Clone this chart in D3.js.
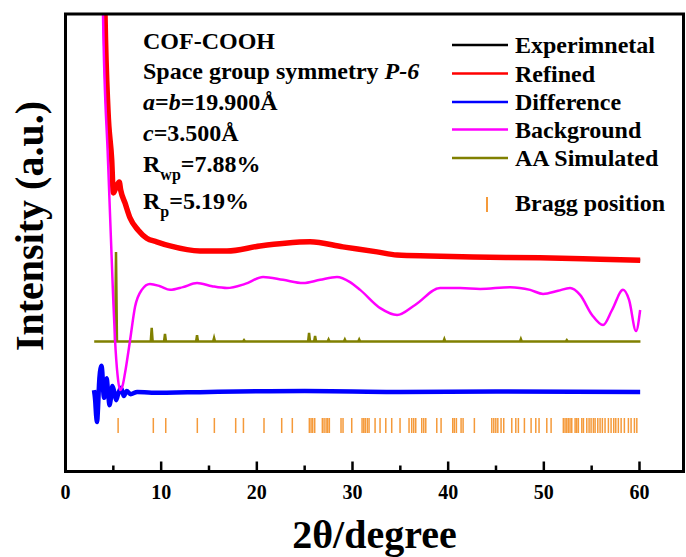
<!DOCTYPE html>
<html>
<head>
<meta charset="utf-8">
<script src="https://cdn.jsdelivr.net/npm/d3@7"></script>
<style>
  body { margin: 0; background: #fff; }
  svg text { font-family: "Times New Roman", "Liberation Serif", serif; font-weight: bold; }
</style>
</head>
<body>
<div></div>
<script>
var width = 686, height = 557;

// observed / refined profile, [2theta, intensity a.u.]
var refined = [[3.9,136],[4.13,100],[4.44,79],[4.83,68.1],[5.0,60.9],[5.3,62.2],[5.62,63.3],[5.77,61.5],
  [6.22,58.7],[6.75,55.4],[7.58,52.8],[8.49,51.0],[9.53,50.2],[10.93,49.3],[14.06,48.2],[16.88,48.2],
  [20.33,49.3],[22.94,49.9],[25.56,50.2],[29.0,49.1],[32.57,48.0],[34.66,47.3],[38.1,47.1],[42.6,46.9],
  [49.6,46.7],[55.9,46.4],[60.07,46.2]];

var background = [[3.7,146.8],[3.92,100],[4.44,68.1],[4.97,38.7],[5.18,28.7],[5.44,21.1],[5.7,17.8],[5.96,18.7],
  [6.22,21.5],[6.75,28.7],[7.27,36.0],[7.97,39.7],[8.83,41.0],[9.88,40.5],[10.93,39.7],[12.28,40.3],
  [13.75,41.2],[15.32,40.5],[16.88,40.1],[18.77,41.0],[20.65,42.5],[22.74,41.9],[24.83,41.2],[26.61,41.9],
  [28.38,42.5],[29.74,41.4],[30.8,39.7],[32.9,35.7],[34.66,34.2],[36.54,36.4],[39.16,40.1],[41.25,40.1],
  [43.34,39.9],[46.48,40.3],[48.57,39.7],[49.92,38.8],[51.49,39.5],[52.74,40.1],[53.79,38.6],[55.04,34.2],
  [56.19,32.0],[57.13,35.3],[58.28,39.7],[58.91,37.5],[59.64,30.7],[60.07,35.3]];

var difference = [[2.98,17.8],[3.1,15.6],[3.2,12.3],[3.3,10.8],[3.4,13.9],[3.5,18.9],[3.6,21.7],[3.75,23.1],
  [3.85,21.7],[3.95,17.4],[4.05,16.1],[4.2,19.1],[4.3,20.4],[4.45,17.4],[4.6,14.5],[4.75,16.1],[4.9,18.7],
  [5.1,17.4],[5.3,15.6],[5.5,16.9],[5.8,18.3],[6.1,16.5],[6.4,17.6],[6.8,16.9],[7.5,17.4],[9,17.2],
  [15,17.4],[25,17.6],[35,17.4],[45,17.5],[60.07,17.4]];

// AA stacking simulation: flat baseline plus peaks [2theta, height]
var simRange = [3.0, 60.1];
var simBase = 28.4;
var simPeaks = [[5.28,48.0],[9.01,31.4],[10.4,30.1],[13.75,29.8],[15.53,29.2],[18.66,28.7],[25.46,30.3],
  [26.09,29.6],[27.5,28.85],[29.2,28.85],[30.7,28.85],[39.6,28.96],[47.6,28.96],[52.4,28.7]];

var bragg = [5.5,9.18,10.48,13.78,15.56,17.79,18.6,20.75,22.6,23.71,25.49,25.67,25.84,26.05,26.85,27.03,
  27.24,27.41,27.58,28.8,29.01,29.92,31.0,31.18,31.34,31.55,31.73,32.36,32.88,33.48,34.1,34.97,35.91,36.19,
  36.4,36.61,37.24,37.45,37.66,38.81,39.26,40.48,40.65,40.86,41.35,41.56,42.74,44.56,44.77,44.98,45.19,
  45.53,45.81,46.65,47.07,47.34,47.97,48.67,49.16,49.5,50.31,50.76,52.04,52.22,52.4,52.57,52.74,52.92,
  53.27,53.44,53.61,53.97,54.14,54.49,54.73,54.94,55.18,55.36,55.64,55.88,56.12,56.4,56.75,57.03,57.31,
  57.52,57.79,58.08,58.42,58.84,59.12,59.47,59.72];

var xTicks = [0, 10, 20, 30, 40, 50, 60];
var xMinor = [5, 15, 25, 35, 45, 55];

var legendNames = ["Experimnetal", "Refined", "Difference", "Background", "AA Simulated"];
var legendColors = ["#000000", "#ff0000", "#0000ff", "#ff00ff", "#808000"];

var pl = 65.5, pr = 683.5, pt = 14, pb = 471.5;

var x = d3.scaleLinear().domain([0, 64.6]).range([pl, pr]);
var y = d3.scaleLinear().domain([0, 100]).range([pb, pt]);

var svg = d3.select("div").append("svg")
    .attr("width", width)
    .attr("height", height);

svg.append("clipPath").attr("id", "clip")
  .append("rect")
    .attr("x", pl).attr("y", pt)
    .attr("width", pr - pl).attr("height", pb - pt);

var plot = svg.append("g").attr("clip-path", "url(#clip)");

var line = d3.line()
    .x(function(d) { return x(d[0]); })
    .y(function(d) { return y(d[1]); })
    .curve(d3.curveMonotoneX);

// build the simulated trace from baseline + narrow peaks
var sim = [[simRange[0], simBase]];
simPeaks.forEach(function(p) {
  sim.push([p[0] - 0.1, simBase], [p[0], p[1]], [p[0] + 0.1, simBase]);
});
sim.push([simRange[1], simBase]);

// bragg ticks
plot.append("g")
  .selectAll("line")
    .data(bragg)
  .enter().append("line")
    .attr("x1", function(d) { return x(d); })
    .attr("x2", function(d) { return x(d); })
    .attr("y1", 418).attr("y2", 433)
    .style("stroke", "#f59a3a")
    .style("stroke-width", 1.5);

plot.append("path").datum(difference)
    .attr("d", line)
    .style("fill", "none").style("stroke", "#0000ff").style("stroke-width", 4.5)
    .style("stroke-linejoin", "round");

plot.append("path").datum(sim)
    .attr("d", d3.line().x(function(d) { return x(d[0]); }).y(function(d) { return y(d[1]); }))
    .style("fill", "none").style("stroke", "#808000").style("stroke-width", 2.5);

plot.append("path").datum(refined)
    .attr("d", line)
    .style("fill", "none").style("stroke", "#000000").style("stroke-width", 3);

plot.append("path").datum(refined)
    .attr("d", line)
    .style("fill", "none").style("stroke", "#ff0000").style("stroke-width", 5.5)
    .style("stroke-linejoin", "round");

plot.append("path").datum(background)
    .attr("d", line)
    .style("fill", "none").style("stroke", "#ff00ff").style("stroke-width", 2.5);

// frame
svg.append("rect")
    .attr("x", pl).attr("y", pt)
    .attr("width", pr - pl).attr("height", pb - pt)
    .style("fill", "none").style("stroke", "#000").style("stroke-width", 3);

// x ticks, inward
svg.append("g").selectAll("line")
    .data(xTicks.slice(1))
  .enter().append("line")
    .attr("x1", function(d) { return x(d); }).attr("x2", function(d) { return x(d); })
    .attr("y1", pb).attr("y2", pb - 10)
    .style("stroke", "#000").style("stroke-width", 2.5);

svg.append("g").selectAll("line")
    .data(xMinor)
  .enter().append("line")
    .attr("x1", function(d) { return x(d); }).attr("x2", function(d) { return x(d); })
    .attr("y1", pb).attr("y2", pb - 6)
    .style("stroke", "#000").style("stroke-width", 2.5);

svg.append("g").selectAll("text")
    .data(xTicks)
  .enter().append("text")
    .attr("x", function(d) { return x(d); })
    .attr("y", 499)
    .attr("text-anchor", "middle")
    .style("font-size", "20px")
    .text(function(d) { return d; });

svg.append("text")
    .attr("x", (pl + pr) / 2).attr("y", 548)
    .attr("text-anchor", "middle")
    .style("font-size", "40px")
    .text("2θ/degree");

svg.append("text")
    .attr("transform", "translate(43,226) rotate(-90)")
    .attr("text-anchor", "middle")
    .style("font-size", "40px")
    .text("Intensity (a.u.)");

// annotation
var note = svg.append("g").style("font-size", "24px");
note.append("text").attr("x", 143).attr("y", 49).text("COF-COOH");
var t2 = note.append("text").attr("x", 143).attr("y", 79);
t2.append("tspan").text("Space group symmetry ");
t2.append("tspan").style("font-style", "italic").text("P-6");
var t3 = note.append("text").attr("x", 143).attr("y", 110);
t3.append("tspan").style("font-style", "italic").text("a");
t3.append("tspan").text("=");
t3.append("tspan").style("font-style", "italic").text("b");
t3.append("tspan").text("=19.900Å");
var t4 = note.append("text").attr("x", 143).attr("y", 141);
t4.append("tspan").style("font-style", "italic").text("c");
t4.append("tspan").text("=3.500Å");
var t5 = note.append("text").attr("x", 143).attr("y", 172);
t5.append("tspan").text("R");
t5.append("tspan").attr("dy", 8).style("font-size", "16px").text("wp");
t5.append("tspan").attr("dy", -8).text("=7.88%");
var t6 = note.append("text").attr("x", 143).attr("y", 209);
t6.append("tspan").text("R");
t6.append("tspan").attr("dy", 8).style("font-size", "16px").text("p");
t6.append("tspan").attr("dy", -8).text("=5.19%");

// legend
var rows = [45, 73.5, 102, 129.5, 158];
var legend = svg.append("g");
legend.selectAll("line")
    .data(legendNames)
  .enter().append("line")
    .attr("x1", 452).attr("x2", 508)
    .attr("y1", function(d, i) { return rows[i]; })
    .attr("y2", function(d, i) { return rows[i]; })
    .style("stroke", function(d, i) { return legendColors[i]; })
    .style("stroke-width", 2.5);
legend.selectAll("text")
    .data(legendNames)
  .enter().append("text")
    .attr("x", 515)
    .attr("y", function(d, i) { return rows[i] + 8; })
    .style("font-size", "24px")
    .text(function(d) { return d; });
legend.append("line")
    .attr("x1", 487).attr("x2", 487).attr("y1", 197).attr("y2", 212)
    .style("stroke", "#f59a3a").style("stroke-width", 2);
legend.append("text")
    .attr("x", 515).attr("y", 211)
    .style("font-size", "24px")
    .text("Bragg position");
</script>
</body>
</html>
